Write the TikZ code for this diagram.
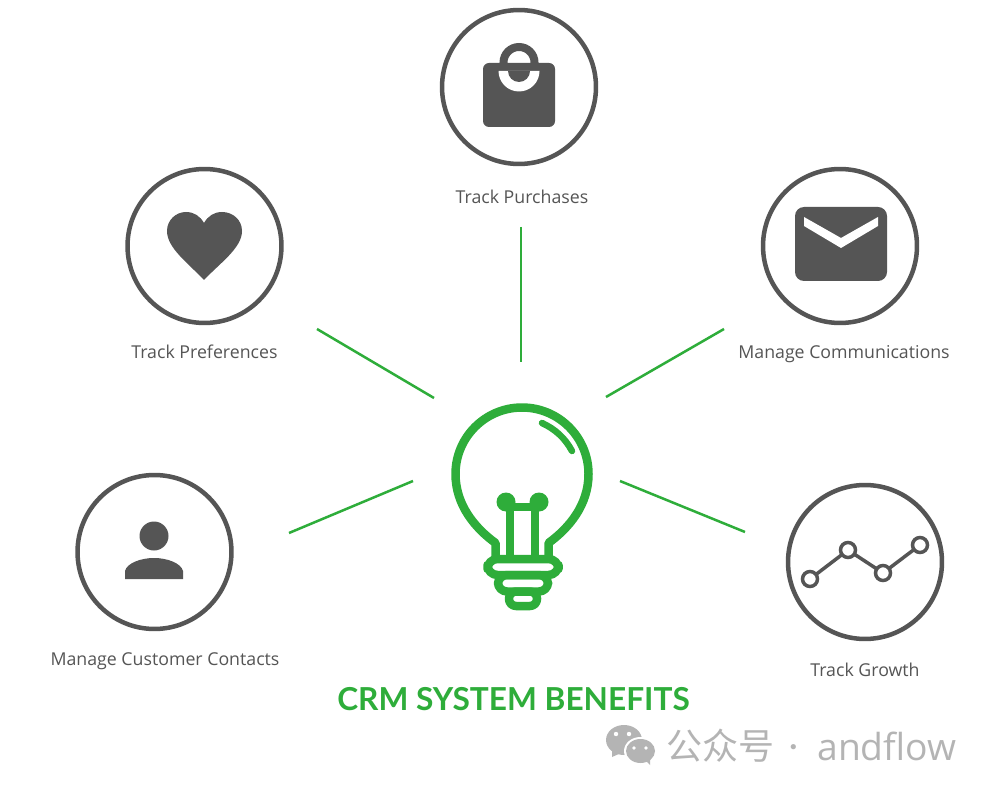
\documentclass[tikz,border=0pt]{standalone}
\usepackage{fontspec}
\setmainfont{Open Sans}
\newfontfamily\ttlfont{Lato}
\newfontfamily\cjk{Noto Sans CJK SC}
\definecolor{ink}{HTML}{555555}
\definecolor{leaf}{HTML}{2EAD3A}
\definecolor{wm}{HTML}{B4B4B4}
\begin{document}
\begin{tikzpicture}[x=0.02cm,y=-0.02cm,
  ring/.style={circle,draw=ink,line width=0.09cm,minimum size=3.08cm,inner sep=0pt},
  lbl/.style={text=ink,font=\fontsize{10.1pt}{12pt}\selectfont,inner sep=0pt,anchor=base},
  ray/.style={draw=leaf,line width=0.05cm},
  bulb/.style={draw=leaf,line width=0.17cm,line join=round}]
\useasboundingbox (0,0) rectangle (1000,800);
\fill[white] (0,0) rectangle (1000,800);
% rings
\node[ring] (top) at (519,87) {};
\node[ring] (left) at (204.5,246) {};
\node[ring] (right) at (840,246) {};
\node[ring] (low) at (154.5,552) {};
\node[ring] (grow) at (865,562) {};
% labels
\node[lbl] (lt) at (522,204) {Track Purchases};
\node[lbl] (ll) at (204.5,358) {Track Preferences};
\node[lbl] (lr) at (844,358) {Manage Communications};
\node[lbl] (lo) at (165,665) {Manage Customer Contacts};
\node[lbl] (lg) at (865,676) {Track Growth};
\node[text=leaf,font=\fontsize{18pt}{21pt}\ttlfont\bfseries,inner sep=0pt,anchor=base] (title) at (513.5,710) {CRM SYSTEM BENEFITS};
% rays
\coordinate (a1) at (521,227); \coordinate (a2) at (521,362);
\coordinate (b1) at (317,329); \coordinate (b2) at (434,398);
\coordinate (c1) at (724,329); \coordinate (c2) at (606,397);
\coordinate (d1) at (413,481); \coordinate (d2) at (289,533);
\coordinate (e1) at (620,481); \coordinate (e2) at (745,532);
\draw[ray] (a1)--(a2); \draw[ray] (b1)--(b2); \draw[ray] (c1)--(c2);
\draw[ray] (d1)--(d2); \draw[ray] (e1)--(e2);
% bag
\draw[ink,line width=0.16cm] (519,62.5) circle (15.5);
\fill[ink,rounded corners=0.12cm] (483,63) rectangle (555,127);
\fill[white] (498.5,71) arc[start angle=180,end angle=0,x radius=20.5,y radius=20.5] -- cycle;
\fill[ink] (508,71) arc[start angle=180,end angle=0,x radius=11,y radius=11] -- cycle;
% heart
\fill[ink] (204,280) .. controls (188,263) and (167,248) .. (167,231)
  .. controls (167,220) and (176,212) .. (186,212)
  .. controls (194,212) and (200,216) .. (204,223)
  .. controls (208,216) and (214,212) .. (222,212)
  .. controls (233,212) and (242,220) .. (242,231)
  .. controls (242,248) and (220,263) .. (204,280) -- cycle;
% envelope
\fill[ink,rounded corners=0.18cm] (795,207) rectangle (887,281);
\fill[white] (804,217) -- (841,238) -- (878,217) -- (878,226) -- (841,248) -- (804,226) -- cycle;
% person
\fill[ink] (154,536) circle (14.5);
\fill[ink] (125,579) -- (125,571) .. controls (127,563) and (141,558) .. (154,558)
  .. controls (167,558) and (181,563) .. (183,571) -- (183,579) -- cycle;
% growth
\draw[ink,line width=0.07cm] (810,579)--(848,550)--(883,573)--(920,545);
\foreach \p in {(810,579),(848,550),(883,573),(920,545)}
  \draw[ink,line width=0.07cm,fill=white] \p circle (7.5);
% bulb
\draw[bulb] (495.5,558) -- (495.5,543) .. controls (475,528) and (455.5,505) .. (455.5,474)
  arc[start angle=180,end angle=360,x radius=66.5,y radius=66.5]
  .. controls (588.5,505) and (569,528) .. (548.5,543) -- (548.5,558);
\draw[leaf,line width=0.13cm,line cap=round] (542,423) .. controls (555,429) and (565,438) .. (572,451);
\draw[bulb] (510,505) -- (510,558); \draw[bulb] (535,505) -- (535,558);
\draw[bulb] (506,507) -- (539,507);
\fill[leaf] (506,502) circle (9.5); \fill[leaf] (539,502) circle (9.5);
\draw[bulb,rounded corners=0.2cm] (487.5,559) rectangle (558.5,575);
\draw[bulb,rounded corners=0.18cm] (498,575) rectangle (548,591.5);
\draw[bulb,rounded corners=0.14cm] (509,591.5) rectangle (537,606);
% watermark
\fill[wm] (624,740) ellipse (18 and 15);
\fill[wm] (612,750) -- (612,757) -- (621,753) -- cycle;
\fill[white] (640.5,751) ellipse (16.5 and 14);
\fill[wm] (640.5,751) ellipse (14.5 and 12);
\fill[wm] (645,760) -- (650,765) -- (650,756) -- cycle;
\fill[white] (616,734) circle (2.2); \fill[white] (629,734) circle (2.2);
\fill[white] (634,748) circle (1.8); \fill[white] (646,748) circle (1.8);
\node[text=wm,font=\fontsize{20.5pt}{24pt}\cjk,inner sep=0pt,anchor=west] (wmt) at (666,746) {公众号};
\node[text=wm,font=\fontsize{14pt}{16pt}\cjk,inner sep=0pt,anchor=center] (wmd) at (794,751) {·};
\node[text=wm,font=\fontsize{21.2pt}{24pt}\selectfont,inner sep=0pt,anchor=base west] (wma) at (817,760) {andflow};
\end{tikzpicture}
\end{document}
